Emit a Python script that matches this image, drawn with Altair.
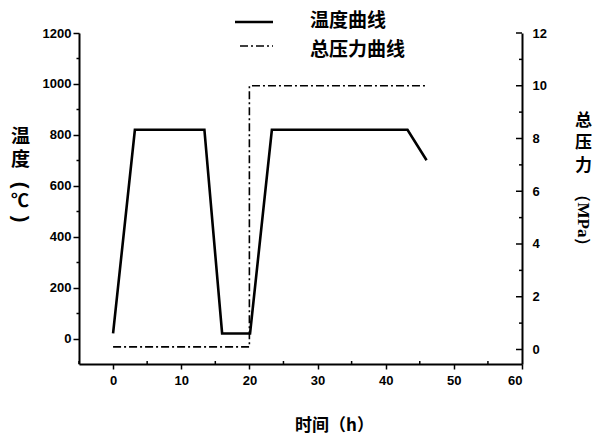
import altair as alt
import pandas as pd

# ---- data ----
temp_time = [0, 3.2, 13.4, 16.0, 20.1, 23.3, 43.2, 46.0]
temp_vals = [20, 820, 820, 20, 20, 820, 820, 700]
press_time = [0, 20, 20, 46]
press_vals = [0.1, 0.1, 10, 10]
series_names = ["温度曲线", "总压力曲线"]

x_major = [0, 10, 20, 30, 40, 50, 60]
x_minor = [-5, 5, 15, 25, 35, 45, 55]
t_ticks = list(range(0, 1201, 100))
p_major = [0, 2, 4, 6, 8, 10, 12]
p_minor = [1, 3, 5, 7, 9, 11]

W, H = 443, 331
CJK = "Noto Sans CJK SC"
NUM = "Liberation Sans"

temp_df = pd.DataFrame({"t": temp_time, "v": temp_vals, "i": range(len(temp_time))})
press_df = pd.DataFrame({"t": press_time, "p": press_vals, "i": range(len(press_time))})

xscale = alt.Scale(domain=[-5, 60], nice=False, zero=False)
tscale = alt.Scale(domain=[-100, 1200], nice=False, zero=False)
pscale = alt.Scale(domain=[-0.55, 12], nice=False, zero=False)

xaxis = alt.Axis(
    values=x_major, tickSize=5, labelPadding=5, title="时间（h）", format="d",
    titleX=255, titleY=61, titleAlign="center", titleBaseline="middle",
    titleFont=CJK, titleFontSize=17, titleFontWeight="bold",
)
taxis = alt.Axis(
    values=t_ticks, orient="left", format="d",
    labelExpr="datum.value % 200 === 0 ? datum.label : ''",
    tickSize={"condition": {"test": "datum.value % 200 === 0", "value": 6}, "value": 3},
    labelPadding=2,
    title=["温", "度"], titleAngle=0, titleX=-59, titleY=94,
    titleAlign="center", titleBaseline="top", titleLineHeight=23,
    titleFont=CJK, titleFontSize=19, titleFontWeight="bold",
)
paxis = alt.Axis(
    values=p_major, orient="right", ticks=False, labelPadding=10, format="d",
    title=["总", "压", "力"], titleAngle=0, titleX=61, titleY=79,
    titleAlign="center", titleBaseline="top", titleLineHeight=22.5,
    titleFont=CJK, titleFontSize=17, titleFontWeight="bold",
)

temp_line = alt.Chart(temp_df).mark_line(color="black", strokeWidth=2.6).encode(
    x=alt.X("t:Q", scale=xscale, axis=xaxis),
    y=alt.Y("v:Q", scale=tscale, axis=taxis),
    order="i:Q",
)
xminor_rules = alt.Chart(pd.DataFrame({"t": x_minor})).mark_rule(color="black", strokeWidth=1.5).encode(
    x=alt.X("t:Q", scale=xscale), y=alt.value(H - 3), y2=alt.value(H)
)
temp_group = alt.layer(temp_line, xminor_rules)

press_line = alt.Chart(press_df).mark_line(color="black", strokeWidth=1.6, strokeDash=[8, 3, 2, 3]).encode(
    x=alt.X("t:Q", scale=xscale),
    y=alt.Y("p:Q", scale=pscale, axis=paxis),
    order="i:Q",
)
pmaj = alt.Chart(pd.DataFrame({"p": p_major})).mark_rule(color="black", strokeWidth=1.5).encode(
    y=alt.Y("p:Q", scale=pscale), x=alt.value(W - 6), x2=alt.value(W)
)
pmin = alt.Chart(pd.DataFrame({"p": p_minor})).mark_rule(color="black", strokeWidth=1.5).encode(
    y=alt.Y("p:Q", scale=pscale), x=alt.value(W - 3), x2=alt.value(W)
)
press_group = alt.layer(press_line, pmaj, pmin)

one = pd.DataFrame({"a": [0]})
leg_line1 = alt.Chart(one).mark_rule(color="black", strokeWidth=2.6).encode(
    x=alt.value(156), x2=alt.value(194), y=alt.value(-11))
leg_line2 = alt.Chart(one).mark_rule(color="black", strokeWidth=1.6, strokeDash=[8, 3, 2, 3]).encode(
    x=alt.value(161), x2=alt.value(194), y=alt.value(13))
leg_text1 = alt.Chart(pd.DataFrame({"s": [series_names[0]]})).mark_text(
    font=CJK, fontSize=19, fontWeight="bold", align="left", baseline="middle", color="black"
).encode(text="s:N", x=alt.value(231), y=alt.value(-12))
leg_text2 = alt.Chart(pd.DataFrame({"s": [series_names[1]]})).mark_text(
    font=CJK, fontSize=19, fontWeight="bold", align="left", baseline="middle", color="black"
).encode(text="s:N", x=alt.value(231), y=alt.value(17))

# vertical "（℃）" of the left title: rotated brackets, upright ℃
def txt(s, x, y, angle=0, font=CJK, size=19):
    return alt.Chart(pd.DataFrame({"s": [s]})).mark_text(
        font=font, fontSize=size, fontWeight="bold", angle=angle,
        align="center", baseline="middle", color="black"
    ).encode(text="s:N", x=alt.value(x), y=alt.value(y))

lp = txt("(", -59, 152, angle=90, font=NUM, size=20)
lc = txt("℃", -59, 169, font=CJK, size=18)
rp = txt(")", -59, 186, angle=90, font=NUM, size=20)
mpa = txt("（MPa）", W + 61, 187, angle=90, font="Liberation Serif", size=17)

chart = alt.layer(
    temp_group, press_group, leg_line1, leg_line2, leg_text1, leg_text2, lp, lc, rp, mpa
).resolve_scale(y="independent").properties(
    width=W, height=H,
    autosize=alt.AutoSizeParams(type="none"),
    padding={"left": 71, "top": 25, "right": 70, "bottom": 72},
).configure_view(stroke=None).configure_axis(
    grid=False, domainColor="black", domainWidth=2, tickColor="black", tickWidth=1.5,
    labelFont=NUM, labelFontSize=13, labelFontWeight="bold", labelColor="black",
    titleColor="black",
)

chart.save("out.html", embed_options={"renderer": "svg", "actions": False})
